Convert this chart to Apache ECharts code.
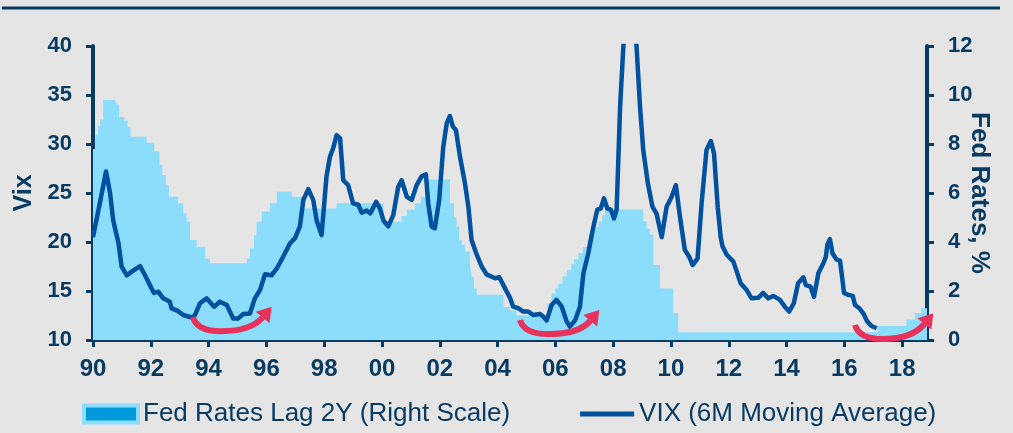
<!DOCTYPE html>
<html>
<head>
<meta charset="utf-8">
<script src="https://cdn.jsdelivr.net/npm/echarts@6/dist/echarts.min.js"></script>
<style>
  html, body { margin: 0; padding: 0; background: #e5e5e5; }
  #chart { width: 1013px; height: 433px; }
</style>
</head>
<body>
<div id="chart"></div>
<script>
// Fed funds rate lagged 2 years (right scale, %), step changes: year where level starts
var fedYears = [1990.0, 1990.08, 1990.17, 1990.25, 1990.35, 1990.76, 1990.82, 1990.9, 1991.08, 1991.2, 1991.3,
  1991.86, 1992.12, 1992.3, 1992.4, 1992.52, 1992.63, 1992.95, 1993.12, 1993.24, 1993.36, 1993.59, 1993.88,
  1994.05, 1995.32, 1995.43, 1995.57, 1995.66, 1995.84, 1996.12, 1996.36, 1996.88, 1997.25, 1998.43, 2000.05,
  2000.68, 2000.86, 2001.14, 2001.34, 2001.49, 2001.6, 2002.35, 2002.49, 2002.58, 2002.67, 2002.76, 2002.87,
  2003.04, 2003.1, 2003.18, 2003.28, 2004.2, 2004.43, 2004.65, 2005.72, 2005.87, 2006.0, 2006.1, 2006.25,
  2006.4, 2006.55, 2006.65, 2006.8, 2006.95, 2007.1, 2007.25, 2007.35, 2007.5, 2007.62, 2007.72, 2009.04,
  2009.16, 2009.27, 2009.39, 2009.62, 2010.08, 2010.25, 2017.16, 2018.15, 2018.44, 2018.67, 2018.86];
var fedRates = [7.8, 8.4, 8.75, 9.0, 9.8, 9.87, 9.6, 9.1, 8.95, 8.7, 8.3,
  8.05, 7.7, 7.14, 6.73, 6.32, 5.85, 5.58, 5.17, 4.83, 4.08, 3.81, 3.33,
  3.13, 3.33, 3.74, 4.28, 4.83, 5.24, 5.58, 6.05, 5.85, 5.37, 5.58, 4.83,
  5.06, 5.33, 5.58, 5.85, 6.25, 6.55, 5.58, 5.0, 4.62, 4.08, 3.9, 3.6,
  3.06, 2.58, 2.1, 1.85, 1.35, 1.2, 1.0, 1.5, 1.9, 2.1, 2.3, 2.6,
  2.86, 3.1, 3.3, 3.55, 3.8, 4.08, 4.3, 4.6, 4.85, 5.1, 5.33, 4.85,
  4.55, 4.3, 3.06, 2.1, 1.1, 0.32, 0.57, 0.84, 1.1, 1.3, 1.3];

// VIX 6M moving average (left scale)
var vixYears = [1990.0, 1990.24, 1990.45, 1990.59, 1990.7, 1990.88, 1990.99, 1991.17, 1991.4, 1991.63, 1991.8,
  1991.97, 1992.11, 1992.26, 1992.43, 1992.66, 1992.72, 1992.92, 1993.12, 1993.42, 1993.53, 1993.7, 1993.93,
  1994.19, 1994.39, 1994.63, 1994.85, 1995.03, 1995.2, 1995.43, 1995.6, 1995.78, 1995.95, 1996.18, 1996.36,
  1996.58, 1996.82, 1996.99, 1997.16, 1997.28, 1997.45, 1997.62, 1997.74, 1997.91, 1998.08, 1998.2, 1998.31,
  1998.43, 1998.55, 1998.66, 1998.83, 1999.0, 1999.18, 1999.3, 1999.47, 1999.6, 1999.8, 1999.93, 2000.05,
  2000.22, 2000.39, 2000.56, 2000.68, 2000.86, 2001.03, 2001.2, 2001.37, 2001.52, 2001.6, 2001.72, 2001.83,
  2001.98, 2002.12, 2002.24, 2002.35, 2002.45, 2002.56, 2002.7, 2002.87, 2002.99, 2003.1, 2003.28, 2003.45,
  2003.62, 2003.8, 2003.91, 2004.06, 2004.2, 2004.43, 2004.54, 2004.72, 2004.89, 2005.06, 2005.24, 2005.47,
  2005.58, 2005.7, 2005.87, 2006.04, 2006.22, 2006.39, 2006.5, 2006.68, 2006.85, 2006.97, 2007.14, 2007.29,
  2007.45, 2007.57, 2007.68, 2007.8, 2007.92, 2008.03, 2008.12, 2008.24, 2008.5, 2008.65, 2008.93, 2009.04,
  2009.2, 2009.36, 2009.5, 2009.68, 2009.85, 2010.02, 2010.17, 2010.31, 2010.48, 2010.63, 2010.75, 2010.92,
  2011.06, 2011.23, 2011.38, 2011.49, 2011.62, 2011.72, 2011.78, 2011.93, 2012.16, 2012.41, 2012.62, 2012.79,
  2013.02, 2013.19, 2013.37, 2013.54, 2013.77, 2013.94, 2014.09, 2014.25, 2014.4, 2014.58, 2014.67, 2014.83,
  2014.95, 2015.1, 2015.27, 2015.36, 2015.41, 2015.5, 2015.59, 2015.73, 2015.85, 2015.99, 2016.14, 2016.29,
  2016.37, 2016.52, 2016.66, 2016.79, 2016.94, 2017.12];
var vixValues = [20.5, 24.0, 27.2, 25.0, 22.2, 19.9, 17.5, 16.6, 17.1, 17.55, 16.6,
  15.6, 14.8, 14.93, 14.25, 13.9, 13.23, 13.0, 12.55, 12.3, 12.55, 13.75, 14.25,
  13.4, 13.9, 13.57, 12.2, 12.2, 12.65, 12.7, 14.25, 15.1, 16.7, 16.6, 17.3,
  18.5, 19.87, 20.4, 21.6, 24.3, 25.4, 24.3, 22.2, 20.7, 26.7, 28.7, 29.56,
  30.9, 30.6, 26.3, 25.8, 23.95, 23.8, 23.0, 23.2, 22.93, 24.1, 23.4, 22.2,
  21.6, 22.75, 25.6, 26.3, 24.6, 24.3, 25.8, 26.7, 26.9, 23.95, 21.56, 21.4,
  24.3, 29.7, 32.1, 32.86, 31.8, 31.4, 28.7, 26.0, 23.6, 20.2, 18.7, 17.5,
  16.7, 16.45, 16.3, 16.4, 15.6, 14.3, 13.4, 13.24, 12.9, 12.9, 12.55, 12.65,
  12.4, 12.0, 13.57, 14.1, 13.4, 11.9, 11.36, 12.0, 13.4, 16.8, 18.85, 21.2,
  23.3, 23.4, 24.46, 23.4, 23.3, 22.4, 23.3, 33.8, 48.0, 48.0, 33.8, 29.4,
  26.0, 23.6, 22.9, 20.5, 23.6, 24.6, 25.8, 22.6, 19.2, 18.5, 17.65, 18.3,
  23.95, 29.4, 30.3, 29.05, 23.5, 20.5, 19.6, 18.7, 18.0, 15.8, 15.1, 14.25,
  14.3, 14.8, 14.25, 14.5, 14.1, 13.4, 12.9, 13.75, 15.8, 16.4, 15.6, 15.44,
  14.4, 16.8, 17.8, 18.5, 19.7, 20.3, 18.85, 18.2, 18.1, 14.8, 14.6, 14.5,
  13.57, 13.24, 12.7, 11.9, 11.43, 11.2];

// red arrow annotations (year, vix units)
var arrowStartX = [1993.46, 2004.78, 2016.37];
var arrowStartY = [12.34, 12.04, 11.53];
var arrowTipX = [1996.18, 2007.52, 2019.08];
var arrowTipY = [13.4, 13.06, 12.73];
var arrowLowY = [10.9, 10.6, 10.1];

var navy = '#083b62';
var font = "'Liberation Sans', Arial, sans-serif";

var fedData = fedYears.map(function (y, i) { return [y, fedRates[i]]; });
var vixData = vixYears.map(function (y, i) { return [y, vixValues[i]]; });
var arrowData = arrowStartX.map(function (x, i) {
  return [x, arrowStartY[i], arrowTipX[i], arrowTipY[i], arrowLowY[i]];
});

function renderArrow(params, api) {
  var s = api.coord([api.value(0), api.value(1)]);
  var t = api.coord([api.value(2), api.value(3)]);
  var low = api.coord([api.value(0), api.value(4)])[1];
  var dx = 0.64, dy = -0.768;      // arrow direction (up-right)
  var headLen = 14, headHalf = 9;
  var h = [t[0] - dx * headLen, t[1] - dy * headLen];
  var w = h[0] - s[0];
  var b = [s[0] + 0.4 * w, low];
  var c2x = h[0] - (low - h[1]) / 1.2;
  var path = 'M' + s[0] + ',' + s[1] +
    ' Q' + (s[0] + 4) + ',' + low + ' ' + b[0] + ',' + b[1] +
    ' Q' + c2x + ',' + low + ' ' + h[0] + ',' + h[1];
  var px = -dy, py = dx;
  return {
    type: 'group',
    children: [{
      type: 'path',
      shape: { pathData: path },
      style: { fill: null, stroke: '#e8315b', lineWidth: 6 }
    }, {
      type: 'polygon',
      shape: { points: [[t[0], t[1]], [h[0] + px * headHalf, h[1] + py * headHalf], [h[0] - px * headHalf, h[1] - py * headHalf]] },
      style: { fill: '#e8315b' }
    }]
  };
}

var chart = echarts.init(document.getElementById('chart'));
chart.setOption({
  backgroundColor: '#e5e5e5',
  animation: false,
  graphic: [{
    type: 'line',
    shape: { x1: 2, y1: 8, x2: 1000, y2: 8 },
    style: { stroke: navy, lineWidth: 3 }
  }],
  grid: { left: 93, right: 86, top: 46, bottom: 93 },
  legend: {
    left: 77,
    top: 396,
    itemWidth: 54,
    itemHeight: 17,
    itemGap: 70,
    textStyle: { fontFamily: font, fontSize: 26, color: navy },
    data: [{
      name: 'Fed Rates Lag 2Y (Right Scale)',
      icon: 'rect',
      itemStyle: { color: '#0099dc', borderColor: '#8cdcfc', borderWidth: 4 }
    }, {
      name: 'VIX (6M Moving Average)',
      icon: 'path://M0,0H52V5H0Z',
      itemStyle: { color: '#00519e' }
    }]
  },
  xAxis: {
    type: 'value',
    min: 1990,
    max: 2018.86,
    interval: 2,
    splitLine: { show: false },
    axisLine: { onZero: false, lineStyle: { color: navy, width: 4 } },
    axisTick: { length: 7, lineStyle: { color: navy, width: 3 } },
    axisLabel: {
      margin: 17,
      fontFamily: font, fontSize: 24, fontWeight: 'bold', color: navy,
      showMaxLabel: false,
      formatter: function (v) {
        if (Math.abs(v - Math.round(v)) > 1e-6) return '';
        var yy = Math.round(v) % 100;
        return (yy < 10 ? '0' : '') + yy;
      }
    }
  },
  yAxis: [{
    type: 'value',
    min: 10, max: 40, interval: 5,
    name: 'Vix',
    nameLocation: 'middle',
    nameGap: 56,
    nameMoveOverlap: false,
    nameTextStyle: { fontFamily: font, fontSize: 25, fontWeight: 'bold', color: navy },
    splitLine: { show: false },
    axisLine: { show: true, lineStyle: { color: navy, width: 4 } },
    axisTick: { show: true, length: 7, lineStyle: { color: navy, width: 3 } },
    axisLabel: { margin: 21, fontFamily: font, fontSize: 22, fontWeight: 'bold', color: navy }
  }, {
    type: 'value',
    min: 0, max: 12, interval: 2,
    position: 'right',
    name: 'Fed Rates, %',
    nameLocation: 'middle',
    nameRotate: -90,
    nameGap: 39,
    nameMoveOverlap: false,
    nameTextStyle: { fontFamily: font, fontSize: 26, fontWeight: 'bold', color: navy },
    splitLine: { show: false },
    axisLine: { show: true, lineStyle: { color: navy, width: 4 } },
    axisTick: { show: true, length: 7, lineStyle: { color: navy, width: 3 } },
    axisLabel: { margin: 21, fontFamily: font, fontSize: 22, fontWeight: 'bold', color: navy }
  }],
  series: [{
    name: 'Fed Rates Lag 2Y (Right Scale)',
    type: 'line',
    yAxisIndex: 1,
    step: 'end',
    symbol: 'none',
    color: '#8cdcfc',
    lineStyle: { width: 0 },
    areaStyle: { color: '#8cdcfc', opacity: 1 },
    data: fedData,
    z: 1
  }, {
    name: 'VIX (6M Moving Average)',
    type: 'line',
    yAxisIndex: 0,
    symbol: 'none',
    color: '#00519e',
    lineStyle: { width: 4.5, color: '#00519e', join: 'round' },
    data: vixData,
    z: 3
  }, {
    type: 'custom',
    yAxisIndex: 0,
    renderItem: renderArrow,
    data: arrowData,
    clip: false,
    z: 4
  }]
});
</script>
</body>
</html>
